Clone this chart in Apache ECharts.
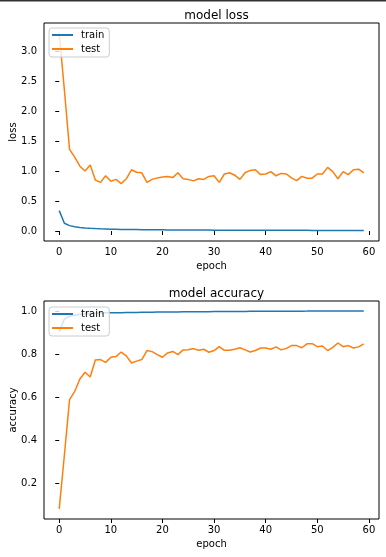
<!DOCTYPE html>
<html>
<head>
<meta charset="utf-8">
<script src="https://cdn.jsdelivr.net/npm/echarts@6/dist/echarts.min.js"></script>
<style>html,body{margin:0;padding:0;background:#fff}#c{width:386px;height:557px}</style>
</head>
<body>
<div id="c"></div>
<script>
const epochs = Array.from({length: 60}, (_, i) => i);
const trainLoss = [0.34,0.13,0.09,0.07,0.06,0.052,0.046,0.041,0.037,0.034,0.031,0.029,0.027,0.026,0.025,0.024,0.023,0.022,0.021,0.021,0.020,0.019,0.019,0.018,0.018,0.017,0.017,0.016,0.016,0.016,0.015,0.015,0.015,0.014,0.014,0.014,0.013,0.013,0.013,0.013,0.012,0.012,0.012,0.012,0.011,0.011,0.011,0.011,0.011,0.010,0.010,0.010,0.010,0.010,0.010,0.009,0.009,0.009,0.009,0.009];
const testLoss = [3.30,2.35,1.36,1.23,1.08,1.00,1.10,0.85,0.81,0.92,0.83,0.86,0.79,0.87,1.02,0.98,0.97,0.81,0.86,0.885,0.90,0.91,0.89,0.97,0.87,0.86,0.835,0.87,0.86,0.91,0.92,0.81,0.95,0.97,0.93,0.86,0.97,1.01,1.02,0.94,0.95,0.99,0.92,0.96,0.95,0.885,0.84,0.91,0.88,0.88,0.95,0.95,1.06,0.99,0.87,0.99,0.94,1.02,1.03,0.97];
const trainAcc = [0.902,0.962,0.975,0.980,0.984,0.986,0.988,0.989,0.990,0.991,0.991,0.992,0.992,0.993,0.993,0.993,0.994,0.994,0.994,0.995,0.995,0.995,0.995,0.995,0.996,0.996,0.996,0.996,0.996,0.996,0.997,0.997,0.997,0.997,0.997,0.997,0.997,0.998,0.998,0.998,0.998,0.998,0.998,0.998,0.998,0.998,0.998,0.998,0.999,0.999,0.999,0.999,0.999,0.999,0.999,0.999,0.999,0.999,0.999,0.999];
const testAcc = [0.081,0.33,0.588,0.626,0.684,0.715,0.693,0.772,0.774,0.761,0.785,0.788,0.809,0.791,0.758,0.767,0.774,0.816,0.811,0.797,0.785,0.805,0.812,0.797,0.819,0.820,0.825,0.817,0.822,0.808,0.816,0.834,0.817,0.817,0.822,0.829,0.819,0.809,0.816,0.828,0.828,0.822,0.833,0.819,0.826,0.839,0.839,0.829,0.847,0.848,0.834,0.837,0.816,0.831,0.851,0.834,0.839,0.828,0.833,0.847];
const xTicks = [0,10,20,30,40,50,60];
const lossTicks = [0.0,0.5,1.0,1.5,2.0,2.5,3.0];
const accTicks = [0.2,0.4,0.6,0.8,1.0];
const titles = ['model loss','model accuracy'];
const yNames = ['loss','accuracy'];
const xName = 'epoch';
const seriesNames = ['train','test'];

const FONT = 'DejaVu Sans';
const BLUE = '#1f77b4', ORANGE = '#ff7f0e';
const pair = (vals) => epochs.map((e, i) => [e, vals[i]]);

function xAxis(gi) {
  return {
    type: 'value', gridIndex: gi, min: -2.95, max: 61.95,
    axisLine: {show: false},
    axisTick: {show: true, length: 4, lineStyle: {color: '#000', width: 1}, customValues: xTicks},
    axisLabel: {customValues: xTicks, fontSize: 10, color: '#000', margin: 6, fontFamily: FONT},
    splitLine: {show: false},
    name: xName, nameLocation: 'middle', nameGap: 20, nameMoveOverlap: false,
    nameTextStyle: {fontSize: 10, color: '#000', fontFamily: FONT}
  };
}
function yAxis(gi, min, max, ticks, name) {
  return {
    type: 'value', gridIndex: gi, min: min, max: max,
    axisLine: {show: false},
    axisTick: {show: true, length: 4, lineStyle: {color: '#000', width: 1}, customValues: ticks},
    axisLabel: {customValues: ticks, fontSize: 10, color: '#000', margin: 7, fontFamily: FONT,
      formatter: v => v.toFixed(1)},
    splitLine: {show: false},
    name: name, nameLocation: 'middle', nameGap: 26, nameRotate: 90, nameMoveOverlap: false,
    nameTextStyle: {fontSize: 10, color: '#000', fontFamily: FONT}
  };
}
function legend(top) {
  return {
    left: 49, top: top, orient: 'vertical',
    data: seriesNames,
    icon: 'rect', itemWidth: 21, itemHeight: 2, itemGap: 4,
    padding: [2, 5, 3, 3],
    backgroundColor: 'rgba(255,255,255,0.8)',
    borderColor: '#cccccc', borderWidth: 1, borderRadius: 3,
    textStyle: {fontSize: 10, color: '#000', fontFamily: FONT, padding: [0, 0, 0, 3]},
    selectedMode: false
  };
}
function line(name, color, vals, gi) {
  return {
    name: name, type: 'line', xAxisIndex: gi, yAxisIndex: gi,
    data: pair(vals), symbol: 'none', showSymbol: false,
    lineStyle: {color: color, width: 1.5}, itemStyle: {color: color},
    emphasis: {disabled: true}
  };
}
function grid(top) {
  return {left: 44, top: top, width: 335, height: 218, show: true, borderColor: '#000', borderWidth: 1,
    backgroundColor: 'transparent', containLabel: false, outerBoundsMode: 'none'};
}

const chart = echarts.init(document.getElementById('c'), null, {renderer: 'canvas'});
chart.setOption({
  animation: false,
  backgroundColor: '#fff',
  textStyle: {fontFamily: FONT},
  title: [
    {text: titles[0], left: 211.5, textAlign: 'center', top: 5,
      textStyle: {fontSize: 12, fontWeight: 'normal', color: '#000', fontFamily: FONT}},
    {text: titles[1], left: 211.5, textAlign: 'center', top: 283,
      textStyle: {fontSize: 12, fontWeight: 'normal', color: '#000', fontFamily: FONT}}
  ],
  grid: [grid(23), grid(301)],
  xAxis: [xAxis(0), xAxis(1)],
  yAxis: [yAxis(0, -0.166, 3.465, lossTicks, yNames[0]), yAxis(1, 0.034, 1.046, accTicks, yNames[1])],
  legend: [legend(28), legend(307)],
  graphic: [{type: 'rect', shape: {x: 0, y: 0, width: 386, height: 1.5}, style: {fill: '#333'}, silent: true}],
  series: [
    line(seriesNames[0], BLUE, trainLoss, 0),
    line(seriesNames[1], ORANGE, testLoss, 0),
    line(seriesNames[0], BLUE, trainAcc, 1),
    line(seriesNames[1], ORANGE, testAcc, 1)
  ]
});
</script>
</body>
</html>
